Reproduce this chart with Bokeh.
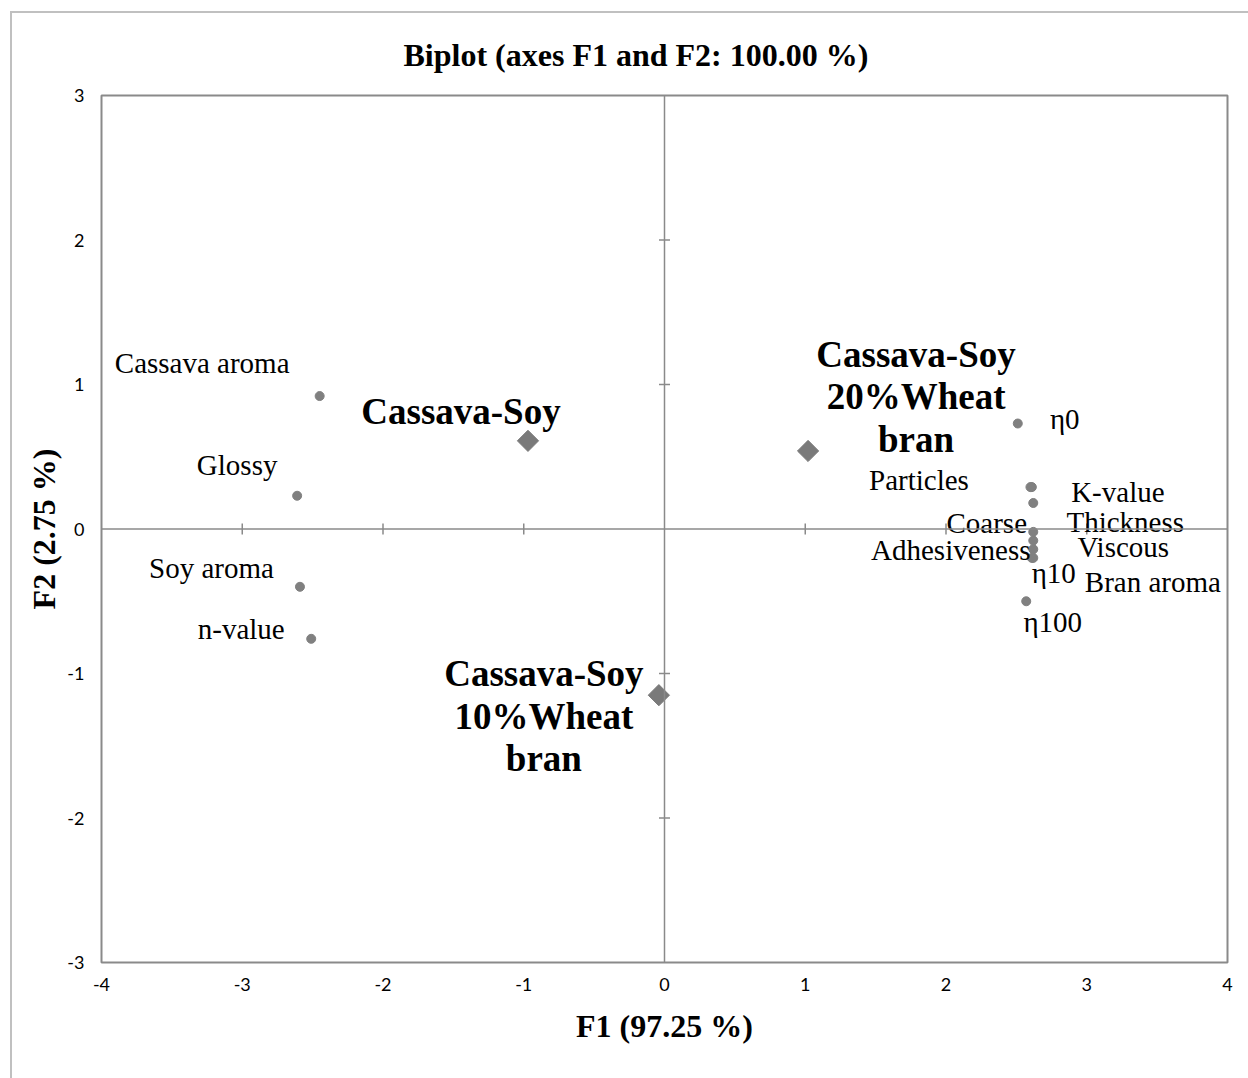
import numpy as np
from bokeh.plotting import figure
from bokeh.models import ColumnDataSource, Range1d, FixedTicker, Span
from bokeh.embed import file_html
from bokeh.resources import INLINE
from bokeh.core.properties import value

# Variable loadings on F1 / F2
variables = ["Cassava aroma", "Glossy", "Soy aroma", "n-value", "η0", "K-value",
             "Particles", "Thickness", "Coarse", "Adhesiveness", "Viscous",
             "η10", "Bran aroma", "η100"]
var_f1 = [-2.45, -2.61, -2.59, -2.51, 2.51, 2.61, 2.60, 2.62, 2.62, 2.62, 2.62, 2.62, 2.61, 2.57]
var_f2 = [0.92, 0.23, -0.40, -0.76, 0.73, 0.29, 0.29, 0.18, -0.02, -0.08, -0.14, -0.20, -0.20, -0.50]

# Sample scores on F1 / F2
samples = ["Cassava-Soy", "Cassava-Soy\n20%Wheat\nbran", "Cassava-Soy\n10%Wheat\nbran"]
sample_f1 = [-0.97, 1.02, -0.04]
sample_f2 = [0.61, 0.54, -1.15]

x_ticks = [-4, -3, -2, -1, 0, 1, 2, 3, 4]
y_ticks = [-3, -2, -1, 0, 1, 2, 3]

# label placement (pixel offsets from each point)
var_dx = [-117.5, -60, -88.5, -70, 47, 86, -111.5, 92, -46.5, -82.5, 90, 20.5, 121, 26.5]
var_dy = [-33, -31, -19, -10, -5, 5, -7, 19, -9, 9, -2, 15, 24, 21]
sample_dx = [-67, 108, -115]
sample_dy = [-29, -54, 21]

GRAY = "#808080"
AXIS_GRAY = "#8a8a8a"
SERIF = "Liberation Serif"

p = figure(width=1248, height=1078, output_backend="svg", toolbar_location=None,
           x_range=Range1d(-4, 4), y_range=Range1d(-3, 3),
           min_border_left=101, min_border_right=21, min_border_top=95, min_border_bottom=116,
           title="Biplot (axes F1 and F2: 100.00 %)")

p.border_fill_color = None
p.background_fill_color = "white"
p.styles = {
    "background": "linear-gradient(#c0c0c0,#c0c0c0) 10px 11px / 2px 1067px no-repeat, "
                  "linear-gradient(#c0c0c0,#c0c0c0) 10px 11px / 1238px 2px no-repeat, white"
}

p.outline_line_color = AXIS_GRAY
p.outline_line_width = 2
p.xgrid.visible = False
p.ygrid.visible = False

p.title.align = "left"
p.title.offset = 302
p.title.text_font = SERIF
p.title.text_font_size = "32px"
p.title.text_font_style = "bold"
p.title.text_color = "black"
p.title.standoff = 45

for ax in (p.xaxis[0], p.yaxis[0]):
    ax.axis_line_color = None
    ax.major_tick_line_color = None
    ax.minor_tick_line_color = None
    ax.major_label_text_font = "Lato"
    ax.major_label_text_font_size = "18px"
    ax.major_label_text_color = "black"
    ax.axis_label_text_font = SERIF
    ax.axis_label_text_font_size = "32px"
    ax.axis_label_text_font_style = "bold"
    ax.axis_label_text_color = "black"

p.xaxis.ticker = FixedTicker(ticks=x_ticks)
p.yaxis.ticker = FixedTicker(ticks=y_ticks)
p.xaxis.major_label_overrides = {t: str(t) for t in x_ticks}
p.yaxis.major_label_overrides = {t: str(t) for t in y_ticks}
p.xaxis.axis_label = "F1 (97.25 %)"
p.yaxis.axis_label = "F2 (2.75 %)"
p.xaxis.major_label_standoff = 9
p.yaxis.major_label_standoff = 11
p.xaxis.axis_label_standoff = 14
p.yaxis.axis_label_standoff = 2

# zero axes through the origin
p.add_layout(Span(location=0, dimension="width", line_color=AXIS_GRAY, line_width=1.5))
p.add_layout(Span(location=0, dimension="height", line_color=AXIS_GRAY, line_width=1.5))

# small tick marks crossing the zero axes
xt = [t for t in x_ticks if t not in (0, x_ticks[0], x_ticks[-1])]
yt = [t for t in y_ticks if t not in (0, y_ticks[0], y_ticks[-1])]
p.scatter(x=xt, y=[0] * len(xt), marker="dash", size=11, angle=np.pi / 2,
          line_color=AXIS_GRAY, line_width=1.5)
p.scatter(x=[0] * len(yt), y=yt, marker="dash", size=11,
          line_color=AXIS_GRAY, line_width=1.5)

# variables
vsrc = ColumnDataSource(dict(x=var_f1, y=var_f2, name=variables, dx=var_dx, dy=var_dy))
p.scatter("x", "y", source=vsrc, marker="circle", size=9,
          fill_color=GRAY, line_color=GRAY)
p.text("x", "y", text="name", source=vsrc, x_offset="dx", y_offset="dy",
       text_align="center", text_baseline="middle",
       text_font=value(SERIF), text_font_size="29px", text_color="black")

# samples
ssrc = ColumnDataSource(dict(x=sample_f1, y=sample_f2, name=samples, dx=sample_dx, dy=sample_dy))
p.scatter("x", "y", source=ssrc, marker="square", angle=np.pi / 4, size=15,
          fill_color="#7a7a7a", line_color="#7a7a7a")
p.text("x", "y", text="name", source=ssrc, x_offset="dx", y_offset="dy",
       text_align="center", text_baseline="middle", text_line_height=1.03,
       text_font=value(SERIF), text_font_size="37px", text_font_style="bold",
       text_color="black")

open("out.html", "w").write(file_html(p, INLINE))
